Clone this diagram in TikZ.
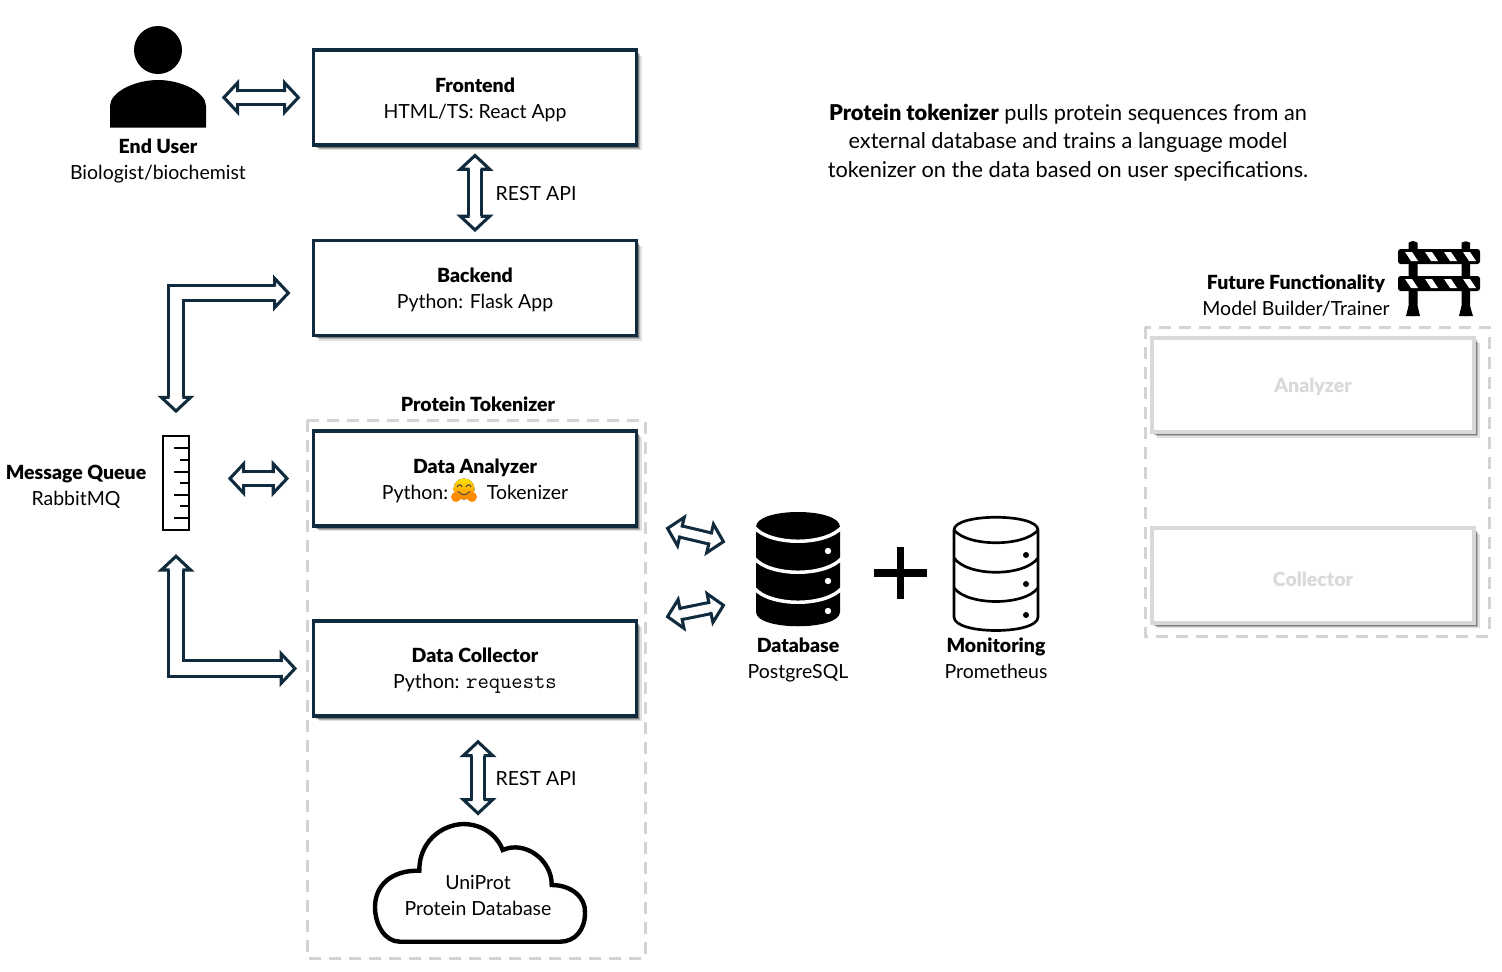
\documentclass[tikz,border=0pt]{standalone}
\usepackage{fontspec}
\setmainfont{Lato}[BoldFont={Lato Black}]
\usetikzlibrary{arrows.meta}
\usetikzlibrary{shadows}
\definecolor{boxnavy}{HTML}{0F2B3D}
\definecolor{futuregray}{HTML}{D9D9D9}
\definecolor{dashgray}{HTML}{D4D4D4}
\pgfdeclarearrow{
  name=HollowHead,
  defaults={width=8.25pt},
  setup code={\pgfarrowssettipend{0pt}\pgfarrowssetlineend{-11.5pt}\pgfarrowssetbackend{-12.5pt}\pgfarrowssavethe\pgfarrowwidth},
  drawing code={
    \pgfsetdash{}{0pt}\pgfsetmiterjoin\pgfsetlinewidth{2.3pt}\pgfsetfillcolor{white}
    \pgfpathmoveto{\pgfqpoint{-11.5pt}{11pt}}
    \pgfpathlineto{\pgfqpoint{-1.2pt}{0pt}}
    \pgfpathlineto{\pgfqpoint{-11.5pt}{-11pt}}
    \pgfpathclose\pgfusepathqfill
    \pgfpathmoveto{\pgfqpoint{-11.5pt}{.5\pgfarrowwidth}}
    \pgfpathlineto{\pgfqpoint{-11.5pt}{11pt}}
    \pgfpathlineto{\pgfqpoint{-1.2pt}{0pt}}
    \pgfpathlineto{\pgfqpoint{-11.5pt}{-11pt}}
    \pgfpathlineto{\pgfqpoint{-11.5pt}{-.5\pgfarrowwidth}}
    \pgfusepathqstroke
  }
}
\tikzset{
  label/.style={font=\fontsize{14.6}{19.5}\selectfont,align=center,text=black,inner sep=0pt},
  boxtext/.style={label,yshift=-1.5pt},
  svcbox/.style={draw=boxnavy,line width=2.6pt,fill=white,inner sep=0pt,minimum width=242pt,minimum height=71pt,
    general shadow={shadow xshift=4pt,shadow yshift=-4pt,opacity=.12,fill=black},
    general shadow={shadow xshift=3pt,shadow yshift=-3pt,opacity=.2,fill=black},
    general shadow={shadow xshift=2pt,shadow yshift=-2pt,opacity=.3,fill=black}},
  futurebox/.style={svcbox,draw=futuregray,line width=3pt},
  dashbox/.style={draw=dashgray,line width=2.25pt,dash pattern=on 9pt off 6pt},
  blockarrow/.style={draw=boxnavy,line width=2.3pt,double=white,double distance=7.8pt,HollowHead-HollowHead},
  widearrow/.style={blockarrow,double distance=9.6pt,{HollowHead[width=9.6pt]}-{HollowHead[width=9.6pt]}},
}
\begin{document}
\begin{tikzpicture}[x=0.75pt,y=-0.75pt]
\useasboundingbox (0,0) rectangle (1502,971);

\draw[dashbox] (307,420) rectangle (645,958);
\draw[dashbox] (1145,327) rectangle (1489,636);
\node[label] (toklabel) at (478,404) {\textbf{Protein Tokenizer}};

\node[svcbox] (frontend) at (475,97.5) {};
\node[boxtext] (frontendtext) at (frontend) {\textbf{Frontend}\\HTML/TS: React App};
\node[svcbox] (backend) at (475,288) {};
\node[boxtext] (backendtext) at (backend) {\textbf{Backend}\\Python: Flask App};
\node[svcbox] (analyzer) at (475,478.5) {};
\node[boxtext] (analyzertext) at (analyzer) {\textbf{Data Analyzer}\\Python:\hspace{29pt}Tokenizer};
\node[svcbox] (collector) at (475,668.5) {};
\node[boxtext] (collectortext) at (collector) {\textbf{Data Collector}\\Python: \texttt{\fontsize{16.5}{19.5}\selectfont requests}};

\node[futurebox] (futanalyzer) at (1313,385) {};
\node[label,text=futuregray] (futanalyzertext) at (1313,387) {\textbf{Analyzer}};
\node[futurebox] (futcollector) at (1313,575.5) {};
\node[label,text=futuregray] (futcollectortext) at (1313,579) {\textbf{Collector}};
\node[label] (futlabel) at (1296,296) {\textbf{Future Functionality}\\Model Builder/Trainer};

\node[label,font=\fontsize{16.3}{21.4}\selectfont] (intro) at (1068,142.5) {\textbf{Protein tokenizer} pulls protein sequences from an\\external database and trains a language model\\tokenizer on the data based on user specifications.};

\fill[black] (158,50) circle (24);
\fill[black] (110,127.5) -- (110,106) .. controls (110,92) and (135,80) .. (158,80) .. controls (181,80) and (206,92) .. (206,106) -- (206,127.5) -- cycle;
\node[inner sep=0pt,minimum width=72pt,minimum height=78pt] (user) at (158,76) {};
\node[label] (userlabel) at (158,161) {\textbf{End User}\\Biologist/biochemist};

\node[draw=black,line width=1.5pt,minimum width=20pt,minimum height=70pt,inner sep=0pt] (queue) at (176,483) {};
\foreach \ty in {448,472,495,518} \draw[black,line width=1.1pt] (174,\ty) -- (189,\ty);
\foreach \ty in {460,483,506} \draw[black,line width=1.1pt] (180,\ty) -- (189,\ty);
\node[label] (queuelabel) at (76,487) {\textbf{Message Queue}\\RabbitMQ};

\fill[black] (756,527) .. controls (756,507) and (840,507) .. (840,527) -- (840,612) .. controls (840,631) and (756,631) .. (756,612) -- cycle;
\foreach \sy in {527,558,588} \draw[white,line width=2.6pt] (754,\sy) .. controls (770,\sy+19) and (826,\sy+19) .. (842,\sy);
\foreach \sy in {551,581,611} \fill[white] (828,\sy) circle (3.2);
\node[inner sep=0pt,minimum width=63pt,minimum height=85pt] (database) at (798,569) {};
\node[label] (dblabel) at (798,660) {\textbf{Database}\\PostgreSQL};

\draw[black,line width=5.4pt] (874,573) -- (927,573);
\draw[black,line width=5.4pt] (900.5,547) -- (900.5,599);

\draw[black,line width=2pt] (954,530) .. controls (954,513) and (1038,513) .. (1038,530) -- (1038,617) .. controls (1038,635) and (954,635) .. (954,617) -- cycle;
\draw[black,line width=2pt] (954,530) .. controls (968,547) and (1024,547) .. (1038,530);
\draw[black,line width=2pt] (954,558) .. controls (968,577) and (1024,577) .. (1038,558);
\draw[black,line width=2pt] (954,588) .. controls (968,606) and (1024,606) .. (1038,588);
\foreach \sy in {555,584,615} \fill[black] (1026,\sy) circle (3);
\node[inner sep=0pt,minimum width=63pt,minimum height=85pt] (monitor) at (996,573) {};
\node[label] (monlabel) at (996,658.5) {\textbf{Monitoring}\\Prometheus};

\draw[black,line width=3.3pt,fill=white] (400,941.7) .. controls (385,941.7) and (375,925) .. (375,907)
  .. controls (375,885) and (392,870) .. (419.3,870.7)
  .. controls (419,843) and (440,825) .. (463,824)
  .. controls (482,824) and (497,835) .. (502.7,850)
  .. controls (525,840) and (552,860) .. (551.7,885)
  .. controls (572,885) and (586,898) .. (585,913)
  .. controls (585,930) and (575,941.7) .. (560,941.7) -- cycle;
\node[label] (cloud) at (478,895.5) {UniProt\\Protein Database};
\coordinate (cloudtop) at (478,824);

\fill[shading=axis,top color=yellow!80!orange,bottom color=orange] (464,489) circle (10.5);
\draw[black!70,line width=.8pt] (457,487) .. controls (459,484) and (461,484) .. (462,487);
\draw[black!70,line width=.8pt] (466,487) .. controls (468,484) and (470,484) .. (471,487);
\draw[black!70,line width=.8pt] (458,491) .. controls (461,496) and (467,496) .. (470,491);
\fill[orange!90!yellow] (456,497) circle (5);
\fill[orange!90!yellow] (472,497) circle (5);

\fill[black,rounded corners=2pt] (1408.5,316) -- (1408.5,245.5) arc[start angle=180,end angle=360,radius=4.5] -- (1417.5,316) -- cycle;
\fill[black,rounded corners=2pt] (1461.5,316) -- (1461.5,245.5) arc[start angle=180,end angle=360,radius=4.25] -- (1470,316) -- cycle;
\fill[black] (1406,316) -- (1408.5,306) -- (1417.5,306) -- (1420,316) -- cycle;
\fill[black] (1459,316) -- (1461.5,306) -- (1470,306) -- (1473,316) -- cycle;
\foreach \by in {249,276} {
  \fill[black,rounded corners=2pt] (1398,\by) rectangle (1480,\by+15);
  \foreach \sx in {1405,1425,1444,1463} \fill[white] (\sx,\by+3) -- (\sx+7,\by+3) -- (\sx+13,\by+12) -- (\sx+6,\by+12) -- cycle;
}

\draw[blockarrow,shorten <=12pt,shorten >=9pt] (user.east |- frontend.west) -- (frontend.west);
\draw[blockarrow,shorten <=5.5pt,shorten >=5.5pt] (frontend.south) -- (backend.north);
\draw[blockarrow,shorten <=28.5pt,shorten >=17.5pt] (queue.east |- analyzer.west) -- (analyzer.west);
\draw[widearrow,shorten <=17pt,shorten >=16.5pt] (queue.north) |- ([yshift=-3.75pt]backend.west);
\draw[widearrow,shorten <=18pt,shorten >=11.5pt] (queue.south) |- (collector.west);
\draw[blockarrow,shorten <=17pt,shorten >=6.75pt] (cloudtop |- collector.south) -- (cloudtop);
\coordinate (dbtop) at (725,542);
\coordinate (dbbot) at (725,605);
\coordinate (anaout) at (666,528);
\coordinate (colout) at (666,617);
\draw[blockarrow,double distance=6.2pt,{HollowHead[width=6.2pt]}-{HollowHead[width=6.2pt]}] (anaout) -- (dbtop);
\draw[blockarrow,double distance=6.2pt,{HollowHead[width=6.2pt]}-{HollowHead[width=6.2pt]}] (colout) -- (dbbot);

\node[label] (restone) at (536,194) {REST API};
\node[label] (resttwo) at (536,779) {REST API};

\end{tikzpicture}
\end{document}
